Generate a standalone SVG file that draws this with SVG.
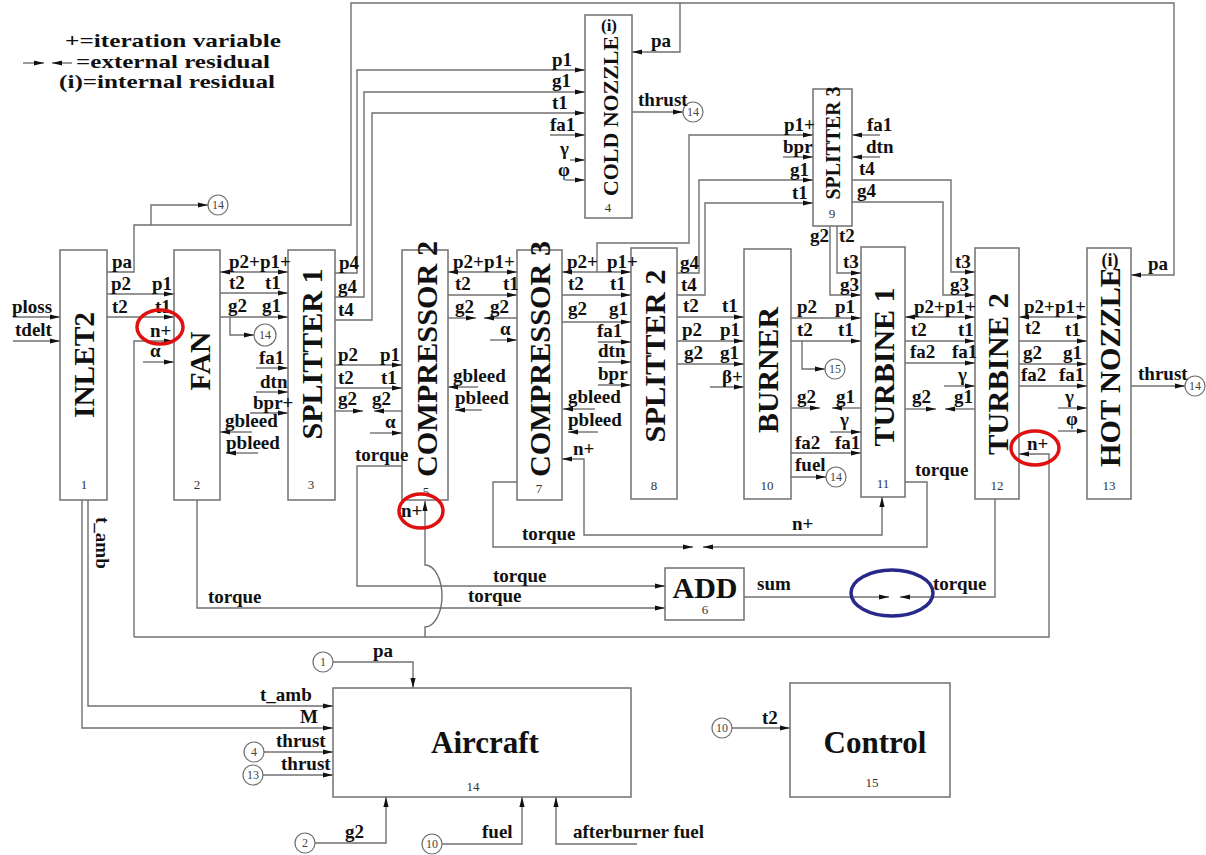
<svg xmlns="http://www.w3.org/2000/svg" width="1206" height="855" viewBox="0 0 1206 855">
<defs>
<marker id="ah" viewBox="0 0 10 6" refX="10" refY="3" markerWidth="10" markerHeight="6" markerUnits="userSpaceOnUse" orient="auto-start-reverse"><path d="M0,0.4 L10,3 L0,5.6 z" fill="#111"/></marker>
<style>
.c{fill:none;stroke:#707070;stroke-width:1.4}
.a{marker-end:url(#ah)}
.b{marker-start:url(#ah);marker-end:url(#ah)}
.box{fill:#fff;stroke:#707070;stroke-width:1.5}
text{font-family:"Liberation Serif","Times New Roman",serif}
.t{font-size:19px;font-weight:bold;fill:#111}
.bl{font-size:30px;font-weight:bold;fill:#111;text-anchor:middle}
.n{font-size:13px;fill:#333;text-anchor:middle}
.cn{font-size:12px;fill:#444;text-anchor:middle}
.ci{fill:#fff;stroke:#707070;stroke-width:1.2}
.big{font-weight:bold;fill:#111;text-anchor:middle}
.leg{font-size:19px;font-weight:bold;fill:#111}
</style>
</defs>
<rect width="1206" height="855" fill="#fff"/>

<g id="legend">
<text class="leg" x="65" y="47" textLength="216" lengthAdjust="spacingAndGlyphs">+=iteration variable</text>
<path class="c a" d="M23,63 H44"/><path class="c a" d="M72,63 H52"/>
<text class="leg" x="76" y="68" textLength="194" lengthAdjust="spacingAndGlyphs">=external residual</text>
<text class="leg" x="59" y="88" textLength="216" lengthAdjust="spacingAndGlyphs">(i)=internal residual</text>
</g>

<g id="connectors">
<path class="c a" d="M107,272 H134 V225 H351 V3 H1174 V275 H1131"/>
<path class="c a" d="M151,225 V205 H208"/>
<path class="c a" d="M680,3 V52 H632"/>
<path class="c a" d="M107,294 H174"/>
<path class="c a" d="M107,317 H174"/>
<path class="c a" d="M13,317 H60"/>
<path class="c a" d="M13,341 H60"/>
<path class="c a" d="M143,362 H174"/>
<path class="c a" d="M134,637 V341 H174"/>
<path class="c a" d="M134,637 H1049 V454 H1019"/>
<path class="c a" d="M425,637 V627 A17,31 0 0 0 425,565 V501"/>
<path class="c a" d="M82,500 V728 H333"/>
<path class="c a" d="M88,500 V706 H333"/>
<path class="c b" d="M220,272 H288"/>
<path class="c a" d="M220,293 H288"/>
<path class="c a" d="M220,317 H288"/>
<path class="c a" d="M230,317 V335 H254"/>
<path class="c a" d="M256,368 H288"/>
<path class="c a" d="M256,392 H288"/>
<path class="c a" d="M250,413 H288"/>
<path class="c a" d="M252,432 H220"/>
<path class="c a" d="M258,453 H226"/>
<path class="c a" d="M335,273 H357 V70 H585"/>
<path class="c a" d="M335,297 H364 V92 H585"/>
<path class="c a" d="M335,320 H372 V113 H585"/>
<path class="c a" d="M335,365 H402"/>
<path class="c a" d="M335,388 H402"/>
<path class="c a" d="M335,411 H363"/>
<path class="c a" d="M402,411 H374"/>
<path class="c a" d="M370,433 H402"/>
<path class="c a" d="M402,466 H357 V586 H665"/>
<path class="c b" d="M448,272 H517"/>
<path class="c a" d="M448,295 H517"/>
<path class="c a" d="M448,318 H476"/>
<path class="c a" d="M517,318 H484"/>
<path class="c a" d="M490,340 H517"/>
<path class="c a" d="M478,387 H448"/>
<path class="c a" d="M482,410 H455"/>
<path class="c b" d="M562,272 H631"/>
<path class="c a" d="M597,272 V243 H689 V135 H813"/>
<path class="c a" d="M562,295 H631"/>
<path class="c a" d="M562,322 H631"/>
<path class="c a" d="M598,342 H631"/>
<path class="c a" d="M598,362 H631"/>
<path class="c a" d="M598,385 H631"/>
<path class="c a" d="M595,409 H563"/>
<path class="c a" d="M598,432 H568"/>
<path class="c b" d="M562,459 H584 V535 H882 V497"/>
<path class="c a" d="M517,482 H493 V547 H693"/>
<path class="c a" d="M905,482 H927 V547 H703"/>
<path class="c a" d="M677,273 H699 V180 H813"/>
<path class="c a" d="M677,295 H705 V203 H813"/>
<path class="c a" d="M783,157 H813"/>
<path class="c a" d="M880,135 H852"/>
<path class="c a" d="M880,157 H852"/>
<path class="c a" d="M852,180 H951 V272 H975"/>
<path class="c a" d="M852,202 H943 V295 H975"/>
<path class="c a" d="M837,226 V273 H861"/>
<path class="c a" d="M830,226 V295 H861"/>
<path class="c a" d="M677,317 H744"/>
<path class="c a" d="M677,341 H744"/>
<path class="c a" d="M677,364 H744"/>
<path class="c a" d="M710,387 H744"/>
<path class="c a" d="M791,318 H861"/>
<path class="c a" d="M791,341 H861"/>
<path class="c a" d="M802,341 V369 H825"/>
<path class="c a" d="M791,408 H820"/>
<path class="c a" d="M861,408 H832"/>
<path class="c a" d="M830,432 H861"/>
<path class="c a" d="M791,453 H861"/>
<path class="c a" d="M791,477 H826"/>
<path class="c b" d="M905,317 H975"/>
<path class="c a" d="M905,341 H975"/>
<path class="c a" d="M905,363 H975"/>
<path class="c a" d="M944,386 H975"/>
<path class="c a" d="M905,409 H936"/>
<path class="c a" d="M975,409 H945"/>
<path class="c b" d="M1019,317 H1087"/>
<path class="c a" d="M1019,341 H1087"/>
<path class="c a" d="M1019,364 H1087"/>
<path class="c a" d="M1019,386 H1087"/>
<path class="c a" d="M1058,408 H1087"/>
<path class="c a" d="M1058,431 H1087"/>
<path class="c a" d="M1131,386 H1185"/>
<path class="c a" d="M995,499 V597 H900"/>
<path class="c a" d="M744,597 H889"/>
<path class="c a" d="M197,500 V608 H665"/>
<path class="c a" d="M550,135 H585"/>
<path class="c a" d="M570,160 H585"/>
<path class="c a" d="M565,180 H585"/>
<path class="c a" d="M632,112 H683"/>
<path class="c a" d="M333,662 H413 V688"/>
<path class="c a" d="M264,752 H333"/>
<path class="c a" d="M263,775 H333"/>
<path class="c a" d="M315,843 H386 V797"/>
<path class="c a" d="M442,844 H522 V797"/>
<path class="c a" d="M637,844 H556 V797"/>
<path class="c a" d="M732,728 H790"/>
</g>

<g id="inlet2"><rect class="box" x="60" y="250" width="47" height="250"/>
<text class="bl" transform="translate(83,365) rotate(-90)" dy="0.35em" textLength="106" lengthAdjust="spacingAndGlyphs">INLET2</text><text class="n" x="84" y="489">1</text></g>
<g id="fan"><rect class="box" x="174" y="250" width="46" height="250"/>
<text class="bl" transform="translate(199,361) rotate(-90)" dy="0.35em" textLength="59" lengthAdjust="spacingAndGlyphs">FAN</text><text class="n" x="197" y="489">2</text></g>
<g id="splitter1"><rect class="box" x="288" y="250" width="47" height="250"/>
<text class="bl" transform="translate(311,354) rotate(-90)" dy="0.35em" textLength="171" lengthAdjust="spacingAndGlyphs">SPLITTER 1</text><text class="n" x="311" y="489">3</text></g>
<g id="coldnozzle"><rect class="box" x="585" y="15" width="47" height="203"/>
<text class="big" x="609" y="31" font-size="17">(i)</text>
<text class="bl" transform="translate(610,116) rotate(-90)" dy="0.35em" style="font-size:22px" textLength="160" lengthAdjust="spacingAndGlyphs">COLD NOZZLE</text><text class="n" x="608" y="212">4</text></g>
<g id="compressor2"><rect class="box" x="402" y="250" width="46" height="250"/>
<text class="bl" transform="translate(426,359) rotate(-90)" dy="0.35em" textLength="236" lengthAdjust="spacingAndGlyphs">COMPRESSOR 2</text><text class="n" x="426" y="496">5</text></g>
<g id="add"><rect class="box" x="665" y="568" width="79" height="52"/>
<text class="big" x="705" y="598" font-size="30">ADD</text><text class="n" x="705" y="614">6</text></g>
<g id="compressor3"><rect class="box" x="517" y="250" width="45" height="250"/>
<text class="bl" transform="translate(539,359) rotate(-90)" dy="0.35em" textLength="236" lengthAdjust="spacingAndGlyphs">COMPRESSOR 3</text><text class="n" x="539" y="493">7</text></g>
<g id="splitter2"><rect class="box" x="631" y="248" width="46" height="251"/>
<text class="bl" transform="translate(654,356) rotate(-90)" dy="0.35em" textLength="173" lengthAdjust="spacingAndGlyphs">SPLITTER 2</text><text class="n" x="654" y="490">8</text></g>
<g id="splitter3"><rect class="box" x="813" y="89" width="39" height="137"/>
<text class="bl" transform="translate(833,143) rotate(-90)" dy="0.35em" style="font-size:21px" textLength="113" lengthAdjust="spacingAndGlyphs">SPLITTER 3</text><text class="n" x="832" y="218">9</text></g>
<g id="burner"><rect class="box" x="744" y="249" width="47" height="250"/>
<text class="bl" transform="translate(767,370) rotate(-90)" dy="0.35em" textLength="126" lengthAdjust="spacingAndGlyphs">BURNER</text><text class="n" x="767" y="490">10</text></g>
<g id="turbine1"><rect class="box" x="861" y="247" width="44" height="250"/>
<text class="bl" transform="translate(883,367) rotate(-90)" dy="0.35em" textLength="159" lengthAdjust="spacingAndGlyphs">TURBINE 1</text><text class="n" x="883" y="488">11</text></g>
<g id="turbine2"><rect class="box" x="975" y="248" width="44" height="251"/>
<text class="bl" transform="translate(997,374) rotate(-90)" dy="0.35em" textLength="162" lengthAdjust="spacingAndGlyphs">TURBINE 2</text><text class="n" x="997" y="490">12</text></g>
<g id="hotnozzle"><rect class="box" x="1087" y="248" width="44" height="251"/>
<text class="big" x="1110" y="266" font-size="18">(i)</text>
<text class="bl" transform="translate(1109,367) rotate(-90)" dy="0.35em" textLength="200" lengthAdjust="spacingAndGlyphs">HOT NOZZLE</text><text class="n" x="1109" y="490">13</text></g>
<g id="aircraft"><rect class="box" x="333" y="688" width="298" height="109"/>
<text class="big" x="485" y="753" font-size="31">Aircraft</text><text class="n" x="473" y="791">14</text></g>
<g id="control"><rect class="box" x="790" y="683" width="160" height="114"/>
<text class="big" x="875" y="753" font-size="31">Control</text><text class="n" x="872" y="787">15</text></g>

<g id="refs">
<circle class="ci" cx="218" cy="205" r="10"/><text class="cn" x="218" y="209">14</text>
<circle class="ci" cx="265" cy="335" r="11"/><text class="cn" x="265" y="339">14</text>
<circle class="ci" cx="693" cy="112" r="10"/><text class="cn" x="693" y="116">14</text>
<circle class="ci" cx="835" cy="369" r="10"/><text class="cn" x="835" y="373">15</text>
<circle class="ci" cx="836" cy="477" r="10"/><text class="cn" x="836" y="481">14</text>
<circle class="ci" cx="1195" cy="386" r="10"/><text class="cn" x="1195" y="390">14</text>
<circle class="ci" cx="323" cy="662" r="10"/><text class="cn" x="323" y="666">1</text>
<circle class="ci" cx="254" cy="752" r="10"/><text class="cn" x="254" y="756">4</text>
<circle class="ci" cx="253" cy="775" r="10"/><text class="cn" x="253" y="779">13</text>
<circle class="ci" cx="305" cy="843" r="10"/><text class="cn" x="305" y="847">2</text>
<circle class="ci" cx="432" cy="844" r="10"/><text class="cn" x="432" y="848">10</text>
<circle class="ci" cx="722" cy="728" r="10"/><text class="cn" x="722" y="732">10</text>
</g>

<g id="labels">
<text class="t" x="112" y="268">pa</text>
<text class="t" x="111" y="290">p2</text><text class="t" x="152" y="290">p1</text>
<text class="t" x="112" y="313">t2</text><text class="t" x="155" y="313">t1</text>
<text class="t" x="150" y="337">n+</text>
<text class="t" x="150" y="357">α</text>
<text class="t" x="12" y="313">ploss</text>
<text class="t" x="15" y="336">tdelt</text>
<text class="t" transform="translate(96,517) rotate(90)">t_amb</text>

<text class="t" x="229" y="268">p2+p1+</text>
<text class="t" x="229" y="289">t2</text><text class="t" x="265" y="289">t1</text>
<text class="t" x="228" y="312">g2</text><text class="t" x="262" y="312">g1</text>
<text class="t" x="259" y="364">fa1</text>
<text class="t" x="260" y="388">dtn</text>
<text class="t" x="253" y="409">bpr+</text>
<text class="t" x="225" y="427">gbleed</text>
<text class="t" x="226" y="449">pbleed</text>

<text class="t" x="339" y="269">p4</text>
<text class="t" x="338" y="293">g4</text>
<text class="t" x="338" y="316">t4</text>
<text class="t" x="338" y="361">p2</text><text class="t" x="380" y="361">p1</text>
<text class="t" x="338" y="384">t2</text><text class="t" x="381" y="384">t1</text>
<text class="t" x="338" y="405">g2</text><text class="t" x="372" y="405">g2</text>
<text class="t" x="385" y="428">α</text>
<text class="t" x="355" y="461">torque</text>
<text class="t" x="401" y="517">n+</text>

<text class="t" x="453" y="268">p2+p1+</text>
<text class="t" x="455" y="290">t2</text><text class="t" x="503" y="290">t1</text>
<text class="t" x="455" y="313">g2</text><text class="t" x="490" y="313">g2</text>
<text class="t" x="500" y="335">α</text>
<text class="t" x="453" y="382">gbleed</text>
<text class="t" x="455" y="404">pbleed</text>

<text class="t" x="567" y="268">p2+</text><text class="t" x="607" y="268">p1+</text>
<text class="t" x="568" y="290">t2</text><text class="t" x="610" y="290">t1</text>
<text class="t" x="568" y="315">g2</text><text class="t" x="609" y="315">g1</text>
<text class="t" x="597" y="337">fa1</text>
<text class="t" x="598" y="357">dtn</text>
<text class="t" x="598" y="380">bpr</text>
<text class="t" x="568" y="403">gbleed</text>
<text class="t" x="568" y="426">pbleed</text>
<text class="t" x="573" y="455">n+</text>
<text class="t" x="522" y="540">torque</text>

<text class="t" x="680" y="269">g4</text>
<text class="t" x="681" y="291">t4</text>
<text class="t" x="683" y="312">t2</text><text class="t" x="722" y="312">t1</text>
<text class="t" x="682" y="336">p2</text><text class="t" x="720" y="336">p1</text>
<text class="t" x="684" y="359">g2</text><text class="t" x="720" y="359">g1</text>
<text class="t" x="722" y="383">β+</text>

<text class="t" x="651" y="47">pa</text>
<text class="t" x="552" y="66">p1</text>
<text class="t" x="552" y="87">g1</text>
<text class="t" x="552" y="109">t1</text>
<text class="t" x="550" y="131">fa1</text>
<text class="t" x="560" y="155">γ</text>
<text class="t" x="558" y="176">φ</text>
<text class="t" x="638" y="106">thrust</text>

<text class="t" x="784" y="131">p1+</text>
<text class="t" x="783" y="153">bpr</text>
<text class="t" x="790" y="176">g1</text>
<text class="t" x="792" y="199">t1</text>
<text class="t" x="867" y="131">fa1</text>
<text class="t" x="866" y="153">dtn</text>
<text class="t" x="859" y="175">t4</text>
<text class="t" x="857" y="197">g4</text>
<text class="t" x="810" y="242">g2</text><text class="t" x="839" y="242">t2</text>

<text class="t" x="843" y="268">t3</text>
<text class="t" x="840" y="291">g3</text>
<text class="t" x="955" y="268">t3</text>
<text class="t" x="950" y="291">g3</text>

<text class="t" x="797" y="313">p2</text><text class="t" x="835" y="313">p1</text>
<text class="t" x="797" y="336">t2</text><text class="t" x="838" y="336">t1</text>
<text class="t" x="797" y="403">g2</text><text class="t" x="836" y="403">g1</text>
<text class="t" x="840" y="426">γ</text>
<text class="t" x="795" y="449">fa2</text><text class="t" x="835" y="449">fa1</text>
<text class="t" x="795" y="471">fuel</text>
<text class="t" x="792" y="530">n+</text>

<text class="t" x="914" y="313">p2+p1+</text>
<text class="t" x="911" y="336">t2</text><text class="t" x="958" y="336">t1</text>
<text class="t" x="910" y="358">fa2</text><text class="t" x="952" y="358">fa1</text>
<text class="t" x="958" y="381">γ</text>
<text class="t" x="912" y="403">g2</text><text class="t" x="954" y="403">g1</text>
<text class="t" x="915" y="476">torque</text>

<text class="t" x="1024" y="313">p2+p1+</text>
<text class="t" x="1025" y="334">t2</text><text class="t" x="1065" y="336">t1</text>
<text class="t" x="1023" y="359">g2</text><text class="t" x="1063" y="359">g1</text>
<text class="t" x="1021" y="381">fa2</text><text class="t" x="1059" y="381">fa1</text>
<text class="t" x="1065" y="403">γ</text>
<text class="t" x="1066" y="425">φ</text>
<text class="t" x="1027" y="450">n+</text>
<text class="t" x="1148" y="270">pa</text>
<text class="t" x="1138" y="380">thrust</text>

<text class="t" x="493" y="582">torque</text>
<text class="t" x="208" y="603">torque</text>
<text class="t" x="468" y="602">torque</text>
<text class="t" x="757" y="590">sum</text>
<text class="t" x="933" y="590">torque</text>

<text class="t" x="373" y="657">pa</text>
<text class="t" x="260" y="701">t_amb</text>
<text class="t" x="300" y="723">M</text>
<text class="t" x="276" y="747">thrust</text>
<text class="t" x="281" y="770">thrust</text>
<text class="t" x="345" y="838">g2</text>
<text class="t" x="482" y="838">fuel</text>
<text class="t" x="573" y="838">afterburner fuel</text>
<text class="t" x="762" y="724">t2</text>
</g>

<g id="highlights" fill="none" stroke-width="3.5">
<ellipse cx="160" cy="327" rx="23" ry="17" stroke="#e01010"/>
<ellipse cx="421" cy="511" rx="22" ry="17" stroke="#e01010"/>
<ellipse cx="1035" cy="448" rx="24" ry="17" stroke="#e01010"/>
<ellipse cx="892" cy="593" rx="41" ry="23" stroke="#28288a"/>
</g>
</svg>
